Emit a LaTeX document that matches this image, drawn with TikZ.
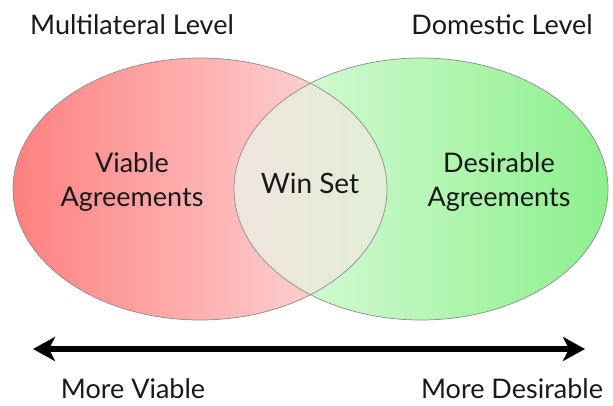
\documentclass[tikz,border=0pt]{standalone}
\usepackage{fontspec}
\setmainfont{Lato}
\usetikzlibrary{shapes.geometric,arrows.meta}
\definecolor{redL}{RGB}{255,128,128}
\definecolor{redR}{RGB}{253,226,226}
\definecolor{grnL}{RGB}{226,252,226}
\definecolor{grnR}{RGB}{140,240,140}
\definecolor{lensL}{RGB}{240,228,222}
\definecolor{lensR}{RGB}{226,238,214}
\definecolor{rim}{RGB}{140,140,140}
\begin{document}
\begin{tikzpicture}[x=1pt,y=-1pt,
  lbl/.style={font=\fontsize{27}{34}\selectfont, text=black!90, align=center},
  venn/.style={ellipse, minimum width=374pt, minimum height=262pt, inner sep=0pt}]
\useasboundingbox[fill=white] (0,0) rectangle (613,406);
\node[venn, left color=redL, right color=redR] (L) at (200,189) {};
\node[venn, left color=grnL, right color=grnR] (R) at (421,189) {};
\begin{scope}
  \clip (200,189) ellipse [x radius=187, y radius=131];
  \clip (421,189) ellipse [x radius=187, y radius=131];
  \shade[left color=lensL, right color=lensR] (234,50) rectangle (388,330);
\end{scope}
\draw[rim, line width=0.7pt] (200,189) ellipse [x radius=187, y radius=131];
\draw[rim, line width=0.7pt] (421,189) ellipse [x radius=187, y radius=131];
\node[lbl] (ml) at (132,25) {Multilateral Level};
\node[lbl] (dl) at (502,25) {Domestic Level};
\node[lbl] (va) at (132,182) {Viable\\Agreements};
\node[lbl, font=\fontsize{28}{34}\selectfont] (ws) at (310,183) {Win Set};
\node[lbl] (da) at (499,182) {Desirable\\Agreements};
\coordinate (al) at (33,349);
\coordinate (ar) at (585,349);
\draw[line width=5.5pt, {Stealth[length=22pt,width=24pt,inset=6pt]}-{Stealth[length=22pt,width=24pt,inset=6pt]}] (al) -- (ar);
\node[lbl] (mv) at (133,389) {More Viable};
\node[lbl] (md) at (512,389) {More Desirable};
\end{tikzpicture}
\end{document}
